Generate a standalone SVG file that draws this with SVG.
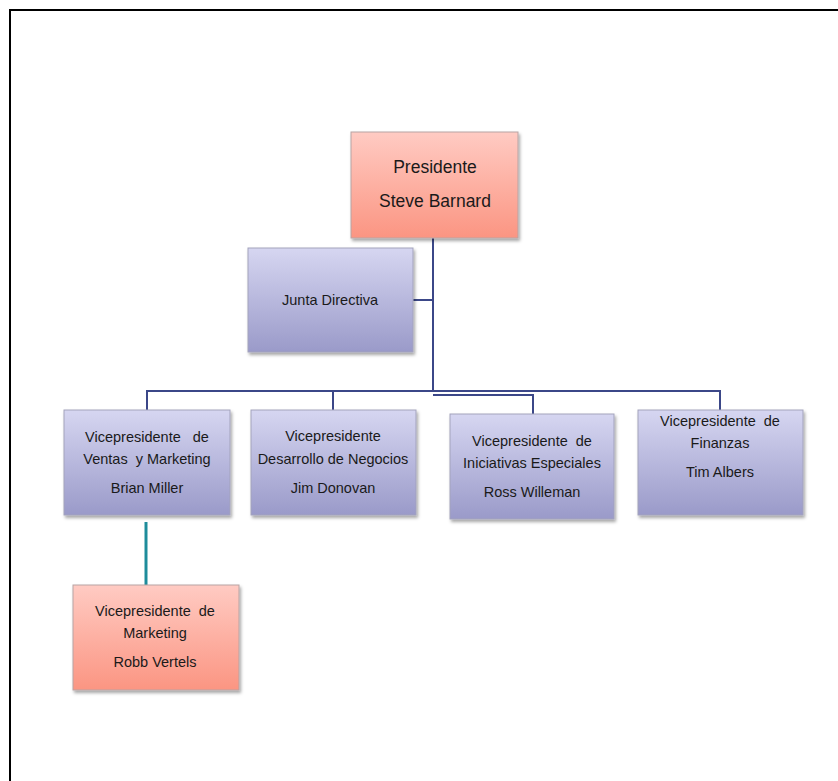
<svg xmlns="http://www.w3.org/2000/svg" width="838" height="781" viewBox="0 0 838 781">
<defs>
<linearGradient id="gPink" x1="0" y1="0" x2="0" y2="1">
<stop offset="0" stop-color="#ffcbc3"/>
<stop offset="1" stop-color="#fb9582"/>
</linearGradient>
<linearGradient id="gBlue" x1="0" y1="0" x2="0" y2="1">
<stop offset="0" stop-color="#d6d6f1"/>
<stop offset="1" stop-color="#9a9ac9"/>
</linearGradient>
<filter id="sh" x="-10%" y="-10%" width="125%" height="130%">
<feDropShadow dx="1.5" dy="2.5" stdDeviation="1.5" flood-color="#000" flood-opacity="0.35"/>
</filter>
</defs>
<style>
.pink{fill:url(#gPink);stroke:#b8a4a4;stroke-width:1;filter:url(#sh)}
.blue{fill:url(#gBlue);stroke:#a3a3bc;stroke-width:1;filter:url(#sh)}
text{font-family:"Liberation Sans","DejaVu Sans",sans-serif;fill:#1a1a1a;text-anchor:middle}
.t{font-size:14.5px}
.tb{font-size:17.5px}
.ln{fill:none;stroke:#3b4788;stroke-width:2}
.ln2{fill:none;stroke:#1e8c9b;stroke-width:3}
</style>
<rect x="0" y="0" width="838" height="781" fill="#fff"/>
<path d="M10 781 V10 H838" fill="none" stroke="#000" stroke-width="2"/>
<g id="connectors">
<path class="ln" d="M433 238 V392"/>
<path class="ln" d="M413 300 H433"/>
<path class="ln" d="M147 410 V391 H720 V410"/>
<path class="ln" d="M333 391 V410"/>
<path class="ln" d="M433 395 H533 V414"/>
<path class="ln2" d="M146 522 V585"/>
</g>
<g id="presidente">
<rect class="pink" x="351" y="132" width="167" height="106"/>
<text class="tb" x="435" y="173">Presidente</text>
<text class="tb" x="435" y="207">Steve Barnard</text>
</g>
<g id="junta">
<rect class="blue" x="248" y="248" width="165" height="104"/>
<text class="t" x="330" y="305">Junta Directiva</text>
</g>
<g id="vp-ventas">
<rect class="blue" x="64" y="410" width="166" height="105"/>
<text class="t" x="147" y="442" xml:space="preserve">Vicepresidente   de</text>
<text class="t" x="147" y="464" xml:space="preserve">Ventas  y Marketing</text>
<text class="t" x="147" y="493">Brian Miller</text>
</g>
<g id="vp-desarrollo">
<rect class="blue" x="251" y="410" width="165" height="105"/>
<text class="t" x="333" y="441">Vicepresidente</text>
<text class="t" x="333" y="464">Desarrollo de Negocios</text>
<text class="t" x="333" y="493">Jim Donovan</text>
</g>
<g id="vp-iniciativas">
<rect class="blue" x="450" y="414" width="164" height="105"/>
<text class="t" x="532" y="446" xml:space="preserve">Vicepresidente  de</text>
<text class="t" x="532" y="468">Iniciativas Especiales</text>
<text class="t" x="532" y="497">Ross Willeman</text>
</g>
<g id="vp-finanzas">
<rect class="blue" x="638" y="410" width="165" height="105"/>
<text class="t" x="720" y="426" xml:space="preserve">Vicepresidente  de</text>
<text class="t" x="720" y="448">Finanzas</text>
<text class="t" x="720" y="477">Tim Albers</text>
</g>
<g id="vp-marketing">
<rect class="pink" x="73" y="585" width="166" height="105"/>
<text class="t" x="155" y="616" xml:space="preserve">Vicepresidente  de</text>
<text class="t" x="155" y="638">Marketing</text>
<text class="t" x="155" y="667">Robb Vertels</text>
</g>
</svg>
